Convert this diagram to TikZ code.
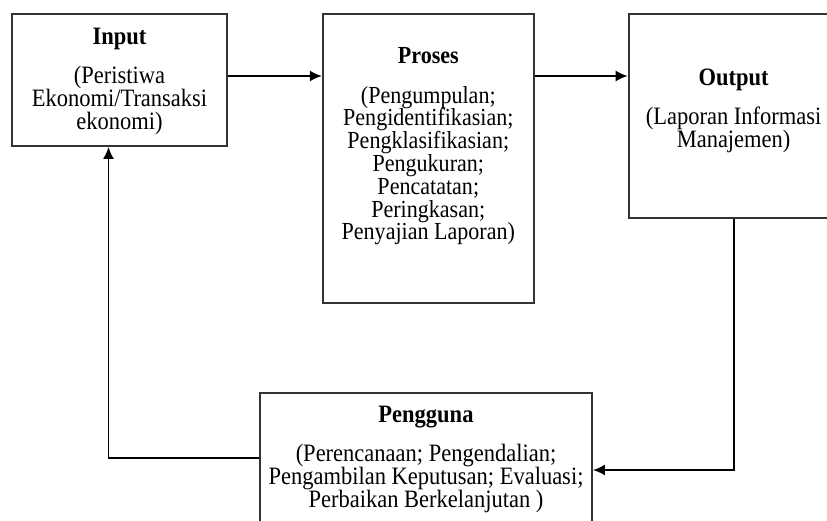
\documentclass[tikz,border=0pt]{standalone}
\usepackage{fontspec}
\setmainfont{Liberation Serif}[FakeStretch=0.9]
\usetikzlibrary{positioning,arrows.meta}

\begin{document}
\begin{tikzpicture}[
x=1pt, y=-1pt,
box/.style={draw=black!80, line width=1.8pt, rectangle, inner sep=0pt},
txt/.style={anchor=north, align=center, inner sep=0pt, font=\fontsize{25}{23}\selectfont},
arrow/.style={-{Latex[length=12pt,width=11pt]}, line width=1.8pt, draw=black}
]
\useasboundingbox (0,0) rectangle (827,520);
% boxes
\node[box, minimum width=215pt, minimum height=132pt] (input) at (119.5,80) {};
\node[box, minimum width=211pt, minimum height=289pt, right=94pt of input.north east, anchor=north west] (proses) {};
\node[box, minimum width=210pt, minimum height=204pt, right=93pt of proses.north east, anchor=north west] (output) {};
\node[box, minimum width=332pt, minimum height=130pt] (pengguna) at (426,458) {};
% texts
\node[txt] (inputTxt) at ([yshift=-15pt]input.north) {\textbf{Input}\\[16pt](Peristiwa\\Ekonomi/Transaksi\\ekonomi)};
\node[txt, font=\fontsize{24.5}{22.8}\selectfont] (prosesTxt) at ([yshift=-34pt]proses.north) {\textbf{Proses}\\[17pt](Pengumpulan;\\Pengidentifikasian;\\Pengklasifikasian;\\Pengukuran;\\Pencatatan;\\Peringkasan;\\Penyajian Laporan)};
\node[txt] (outputTxt) at ([yshift=-56pt]output.north) {\textbf{Output}\\[16pt](Laporan Informasi\\Manajemen)};
\node[txt] (penggunaTxt) at ([yshift=-14pt]pengguna.north) {\textbf{Pengguna}\\[16pt](Perencanaan; Pengendalian;\\Pengambilan Keputusan; Evaluasi;\\Perbaikan Berkelanjutan )};
% connectors
\coordinate (flow) at (0,76);
\draw[arrow] (input.east |- flow) -- (proses.west |- flow);
\draw[arrow] (proses.east |- flow) -- (output.west |- flow);
\draw[arrow] (output.south) |- ([yshift=-12pt]pengguna.east);
\draw[arrow] (pengguna.west) -| ([xshift=-11pt]input.south);
\end{tikzpicture}
\end{document}
